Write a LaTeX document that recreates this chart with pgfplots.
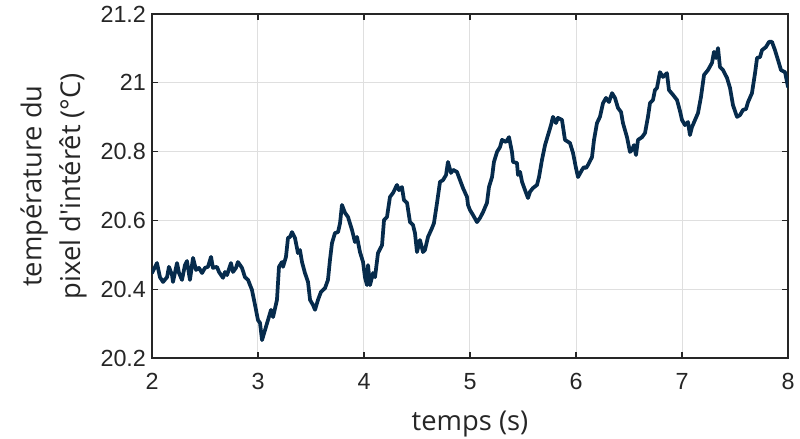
\documentclass[border=0pt]{standalone}
\usepackage{fontspec}
\usepackage{pgfplots}
\pgfplotsset{compat=1.18}
\setmainfont{Open Sans}
\newfontfamily\labfont{Open Sans}
\newfontfamily\tickfont{Liberation Sans}

\definecolor{trace}{HTML}{062B4C}
\definecolor{axcol}{HTML}{262626}

% temps (s)  température (°C)
\pgfplotstableread{
t T
2.000 20.447
2.047 20.476
2.075 20.435
2.104 20.421
2.142 20.435
2.160 20.465
2.189 20.441
2.198 20.421
2.236 20.476
2.255 20.447
2.283 20.427
2.311 20.470
2.330 20.482
2.358 20.427
2.387 20.491
2.415 20.456
2.443 20.462
2.472 20.447
2.500 20.462
2.528 20.465
2.557 20.494
2.575 20.462
2.613 20.465
2.632 20.450
2.670 20.433
2.689 20.450
2.708 20.441
2.745 20.476
2.764 20.450
2.792 20.462
2.811 20.479
2.849 20.462
2.877 20.435
2.906 20.427
2.943 20.398
2.972 20.354
3.000 20.310
3.019 20.302
3.038 20.252
3.066 20.281
3.094 20.310
3.123 20.340
3.142 20.319
3.179 20.369
3.198 20.465
3.226 20.479
3.236 20.465
3.264 20.494
3.283 20.549
3.302 20.552
3.321 20.566
3.349 20.549
3.377 20.505
3.396 20.514
3.415 20.479
3.443 20.447
3.472 20.421
3.491 20.369
3.519 20.354
3.538 20.340
3.566 20.369
3.594 20.392
3.632 20.403
3.660 20.427
3.679 20.485
3.698 20.534
3.726 20.563
3.755 20.566
3.774 20.592
3.792 20.645
3.821 20.622
3.849 20.610
3.887 20.572
3.915 20.537
3.934 20.552
3.962 20.508
3.991 20.479
4.009 20.435
4.028 20.412
4.038 20.470
4.057 20.412
4.085 20.447
4.104 20.435
4.132 20.505
4.170 20.528
4.189 20.601
4.217 20.610
4.245 20.668
4.274 20.680
4.311 20.703
4.330 20.688
4.358 20.697
4.377 20.659
4.406 20.651
4.434 20.595
4.462 20.587
4.481 20.563
4.500 20.508
4.528 20.543
4.557 20.508
4.575 20.514
4.604 20.552
4.642 20.578
4.660 20.592
4.689 20.651
4.717 20.712
4.745 20.717
4.774 20.732
4.792 20.770
4.821 20.738
4.840 20.747
4.877 20.741
4.906 20.717
4.934 20.694
4.972 20.668
4.981 20.645
5.000 20.630
5.028 20.616
5.066 20.595
5.094 20.607
5.123 20.624
5.160 20.651
5.179 20.697
5.208 20.726
5.226 20.770
5.255 20.799
5.283 20.813
5.302 20.834
5.340 20.828
5.368 20.842
5.396 20.799
5.406 20.770
5.443 20.767
5.453 20.732
5.472 20.741
5.491 20.712
5.519 20.688
5.547 20.665
5.566 20.683
5.594 20.694
5.632 20.703
5.651 20.726
5.679 20.776
5.708 20.819
5.736 20.848
5.764 20.877
5.783 20.901
5.811 20.883
5.830 20.898
5.868 20.892
5.896 20.834
5.943 20.825
5.972 20.796
6.000 20.752
6.019 20.726
6.057 20.747
6.075 20.755
6.094 20.752
6.113 20.761
6.151 20.784
6.170 20.834
6.198 20.883
6.226 20.901
6.255 20.941
6.283 20.956
6.311 20.944
6.340 20.970
6.368 20.956
6.396 20.927
6.425 20.915
6.443 20.883
6.481 20.842
6.509 20.799
6.528 20.805
6.547 20.819
6.566 20.790
6.585 20.834
6.623 20.842
6.651 20.854
6.679 20.901
6.698 20.941
6.726 20.950
6.745 20.979
6.764 20.985
6.792 21.031
6.821 21.017
6.858 21.028
6.877 20.979
6.915 20.965
6.953 20.950
6.981 20.918
7.000 20.892
7.028 20.877
7.057 20.886
7.075 20.848
7.094 20.871
7.123 20.892
7.151 20.912
7.179 20.959
7.208 21.023
7.245 21.037
7.283 21.058
7.302 21.090
7.321 21.072
7.340 21.101
7.358 21.046
7.387 21.037
7.425 21.014
7.453 20.985
7.481 20.935
7.519 20.901
7.547 20.906
7.575 20.921
7.604 20.924
7.623 20.944
7.660 20.970
7.689 21.028
7.708 21.072
7.736 21.075
7.755 21.095
7.792 21.104
7.821 21.119
7.849 21.119
7.877 21.095
7.906 21.066
7.934 21.037
7.972 21.031
8.000 20.988
}\pixeltemp

\begin{document}
\begin{tikzpicture}
\useasboundingbox (-114pt,-60.75pt) rectangle (486pt,268.5pt);
\begin{axis}[
  at={(0,0)}, anchor=south west,
  scale only axis,
  width=477pt, height=258pt,
  xmin=2, xmax=8, ymin=20.2, ymax=21.2,
  xtick={2,3,4,5,6,7,8},
  ytick={20.2,20.4,20.6,20.8,21,21.2},
  tick align=inside,
  major tick length=4.5pt,
  axis line style={axcol, line width=0.8pt},
  every tick/.style={axcol, line width=0.8pt},
  grid=major,
  major grid style={gray!25, line width=0.75pt},
  /pgf/number format/assume math mode=true,
  tick label style={font=\tickfont\fontsize{17.5}{20}\selectfont, text=axcol},
  xticklabel style={yshift=-8pt},
  yticklabel style={xshift=-1pt},
  xlabel={temps (s)},
  ylabel={température du\\pixel d'intérêt (°C)},
  label style={font=\labfont\fontsize{20.5}{29}\selectfont, text=axcol},
  xlabel style={yshift=-9pt},
  ylabel style={align=center, yshift=3.5pt},
]
\addplot[trace, line width=2.8pt, line join=round, line cap=round] table[x=t, y=T] {\pixeltemp};
\end{axis}
\end{tikzpicture}
\end{document}
